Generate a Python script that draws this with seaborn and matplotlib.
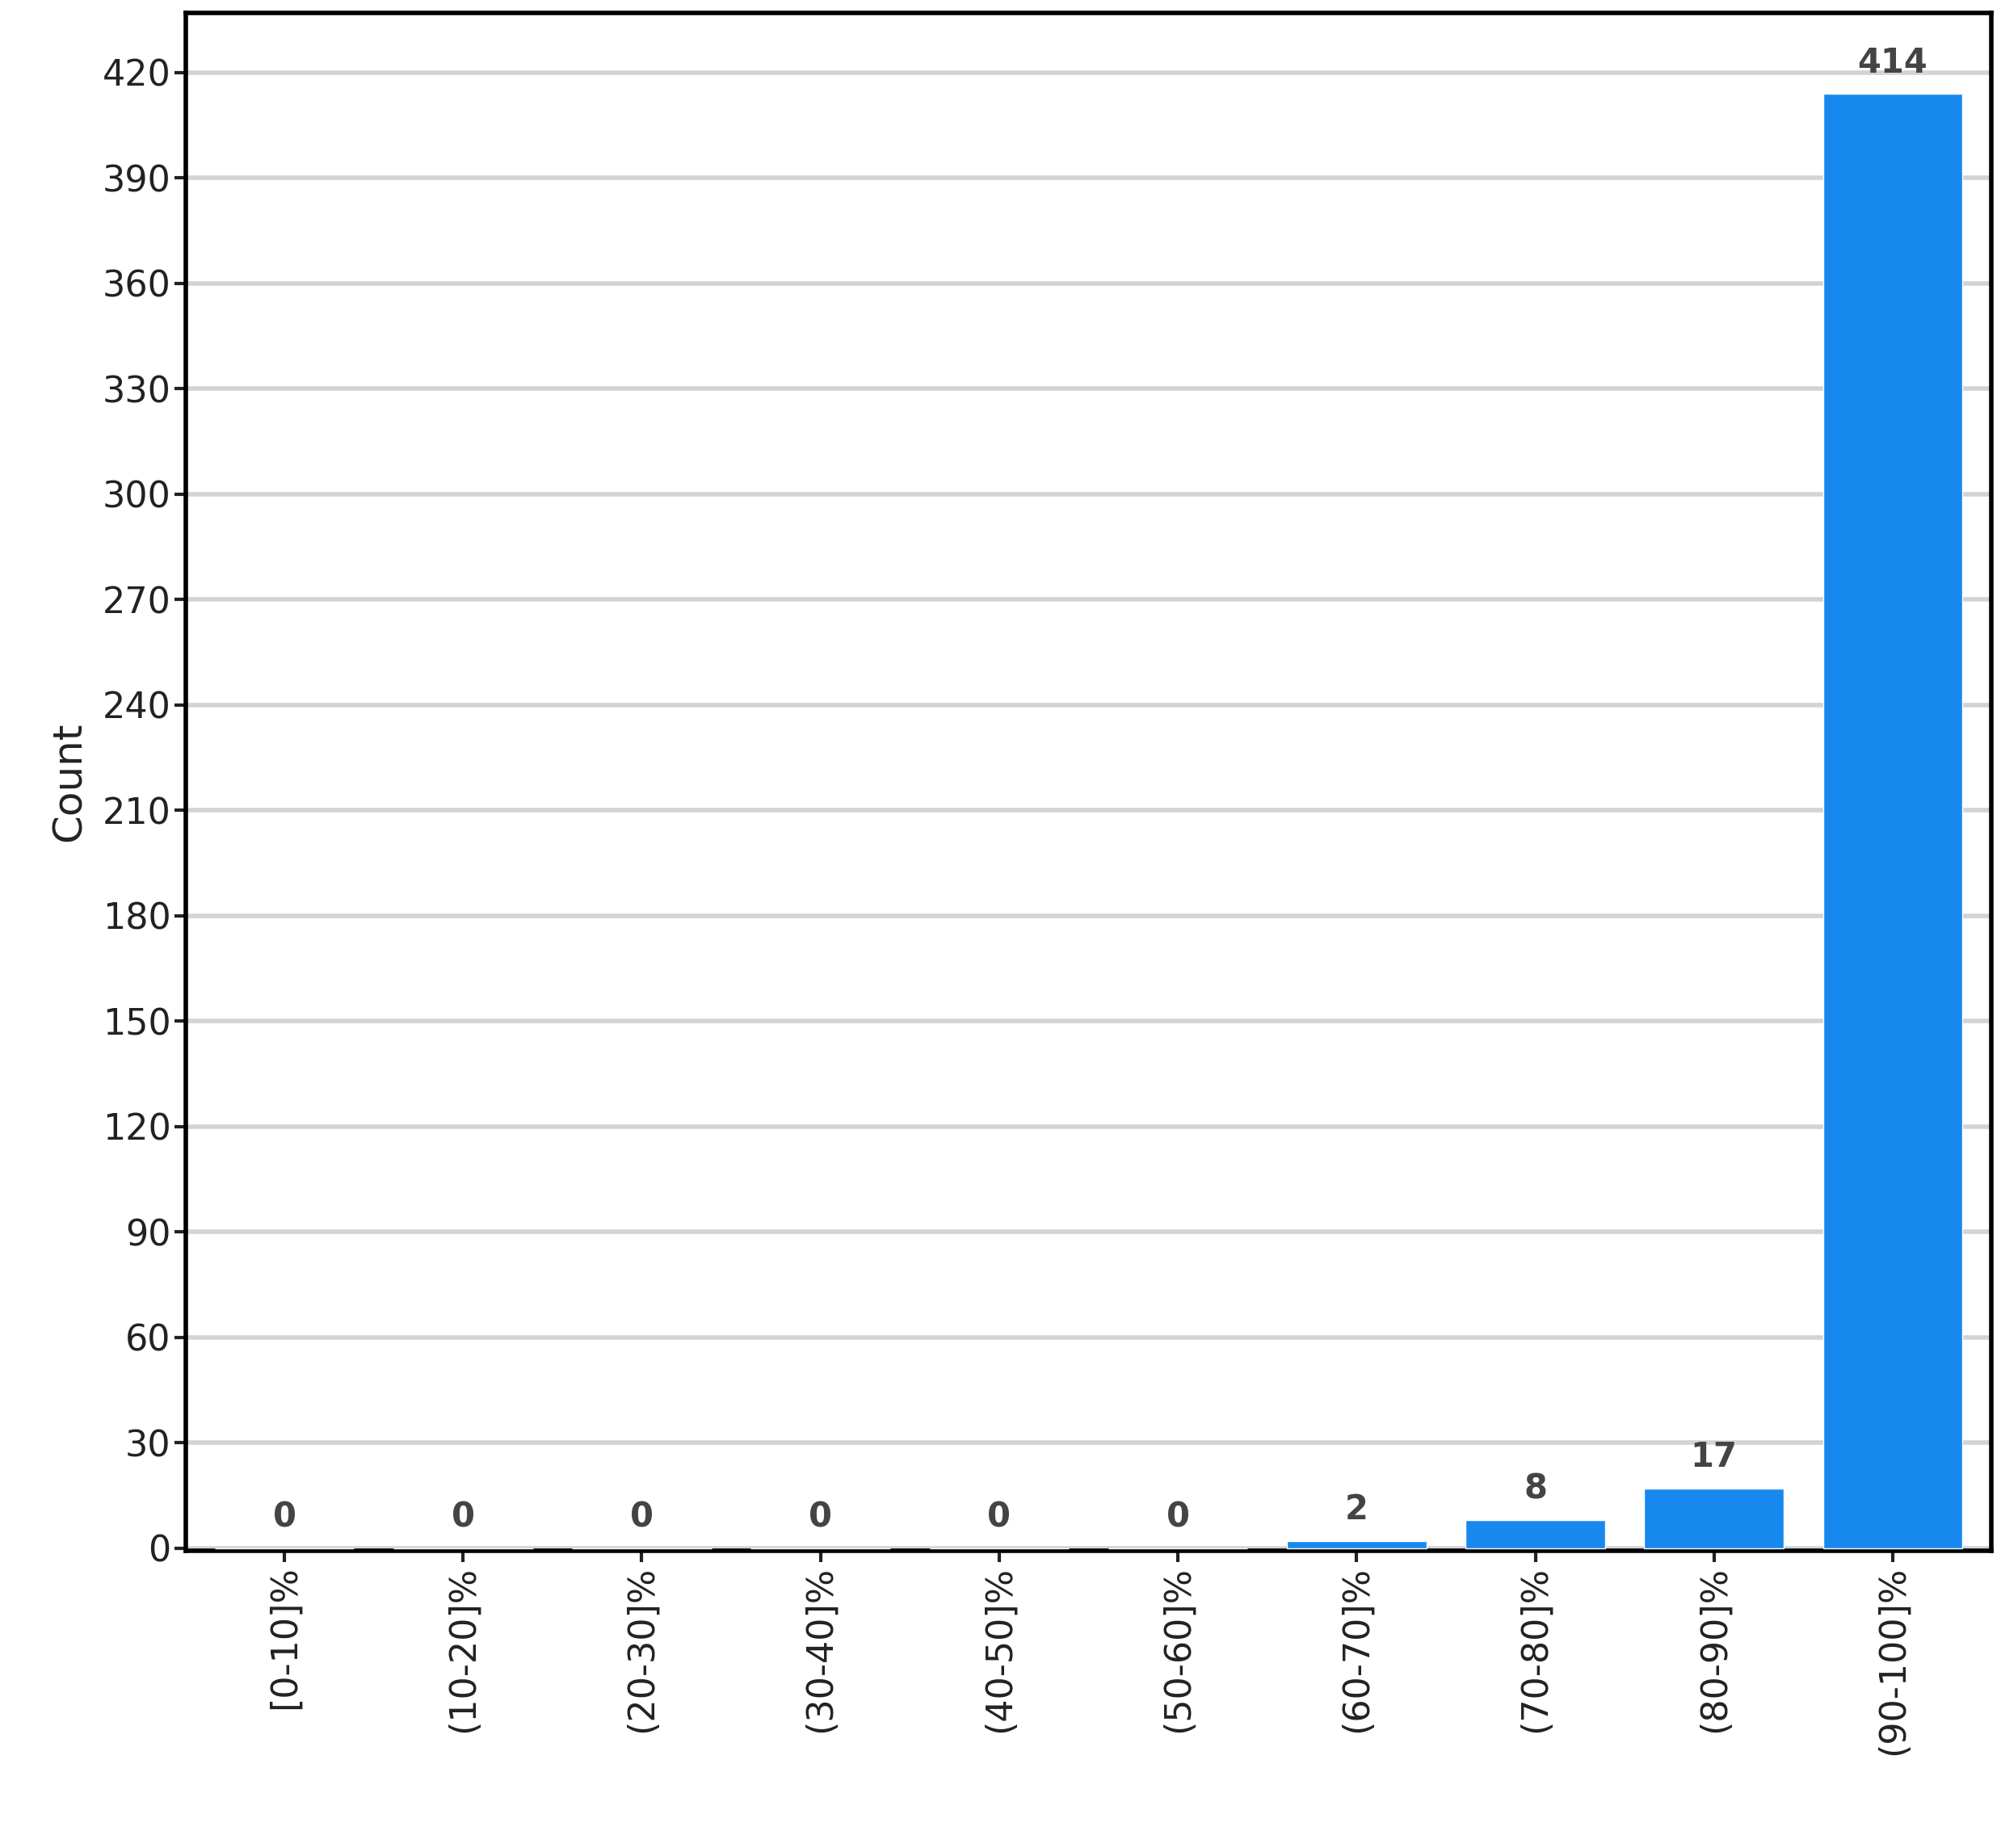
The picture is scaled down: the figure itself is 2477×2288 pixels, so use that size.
import matplotlib
matplotlib.use("Agg")
import matplotlib.pyplot as plt
import pandas as pd
import seaborn as sns

categories = ["[0-10]%", "(10-20]%", "(20-30]%", "(30-40]%", "(40-50]%",
              "(50-60]%", "(60-70]%", "(70-80]%", "(80-90]%", "(90-100]%"]
counts = [0, 0, 0, 0, 0, 0, 2, 8, 17, 414]

sns.set_style("white")
plt.rcParams["font.family"] = ["DejaVu Sans"]

df = pd.DataFrame({"bin": categories, "count": counts})

fig = plt.figure(figsize=(24.77, 22.88), dpi=100)
ax = fig.add_axes([0.093, 0.161, 0.902, 0.832])

sns.barplot(data=df, x="bin", y="count", color="#1789EE", saturation=1,
            width=0.78, ax=ax, zorder=3)

for i, v in enumerate(counts):
    ax.text(i, v + 4, str(v), ha="center", va="bottom", fontsize=30,
            fontweight="bold", color="#444444", zorder=4)

ax.set_ylim(-0.7, 437)
ax.set_xlim(-0.55, 9.55)
ax.set_yticks(range(0, 421, 30))
ax.yaxis.grid(True, color="#d3d3d3", linewidth=4, zorder=0)
ax.set_axisbelow(True)
ax.set_xlabel("")
ax.set_ylabel("Count", fontsize=36, color="#222222", labelpad=12)
ax.tick_params(axis="y", labelsize=32, length=10, width=3, colors="#222222", direction="out", left=True)
ax.tick_params(axis="x", labelsize=32, length=10, width=3, colors="#222222", rotation=90, bottom=True)
for s in ax.spines.values():
    s.set_linewidth(4)
    s.set_color("black")

fig.savefig("out.png", dpi=100)
